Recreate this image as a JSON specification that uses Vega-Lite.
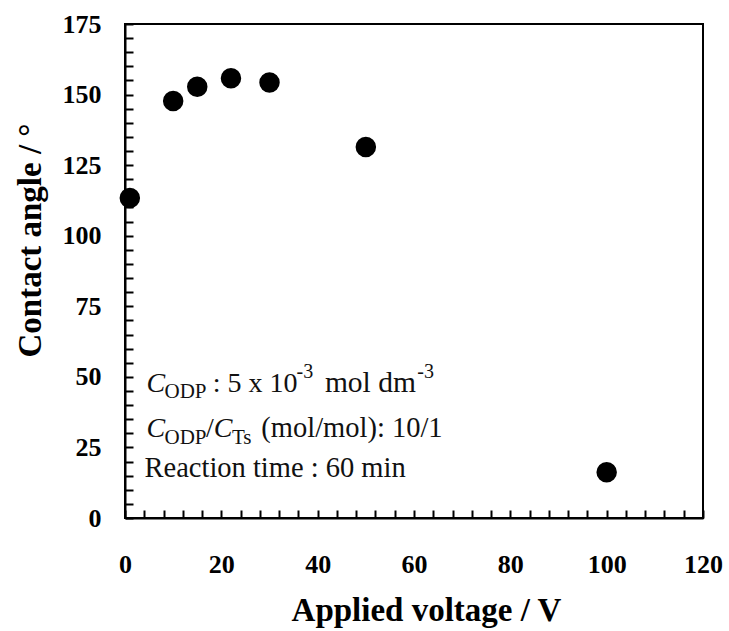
{
  "$schema": "https://vega.github.io/schema/vega-lite/v6.json",
  "width": 578,
  "height": 494,
  "autosize": "none",
  "padding": {"left": 125, "top": 24, "right": 26, "bottom": 113},
  "background": "white",
  "config": {
    "view": {"stroke": "#000", "strokeWidth": 2},
    "font": "Liberation Serif",
    "axis": {
      "domainColor": "#000",
      "domainWidth": 2,
      "tickColor": "#000",
      "tickWidth": 2,
      "tickSize": -8,
      "grid": false,
      "labelFont": "Liberation Serif",
      "labelFontWeight": "bold",
      "labelFontSize": 26,
      "labelColor": "#000",
      "titleFont": "Liberation Serif",
      "titleFontWeight": "bold",
      "titleFontSize": 33,
      "titleColor": "#000"
    }
  },
  "data": {
    "values": [
      {"voltage": 1, "angle": 113.4},
      {"voltage": 10, "angle": 147.7},
      {"voltage": 15, "angle": 152.8},
      {"voltage": 22, "angle": 155.8},
      {"voltage": 30, "angle": 154.3},
      {"voltage": 50, "angle": 131.4},
      {"voltage": 100, "angle": 16.2}
    ]
  },
  "layer": [
    {
      "mark": {"type": "point", "filled": true, "shape": "circle", "size": 420, "color": "#000", "opacity": 1},
      "encoding": {
        "x": {
          "field": "voltage", "type": "quantitative",
          "scale": {"domain": [0, 120], "nice": false, "zero": false},
          "axis": {
            "title": "Applied voltage / V",
            "values": [0,4,8,12,16,20,24,28,32,36,40,44,48,52,56,60,64,68,72,76,80,84,88,92,96,100,104,108,112,116,120],
            "tickCount": 100,
            "labelExpr": "datum.value % 20 === 0 ? datum.label : ''",
            "labelBaseline": "alphabetic",
            "labelPadding": 62,
            "labelFlush": false,
            "labelOverlap": false,
            "titleX": 301,
            "titleY": 102,
            "titleBaseline": "alphabetic"
          }
        },
        "y": {
          "field": "angle", "type": "quantitative",
          "scale": {"domain": [0, 175], "nice": false, "zero": false},
          "axis": {
            "title": "Contact angle / °",
            "values": [0,5,10,15,20,25,30,35,40,45,50,55,60,65,70,75,80,85,90,95,100,105,110,115,120,125,130,135,140,145,150,155,160,165,170,175],
            "tickCount": 100,
            "labelExpr": "datum.value % 25 === 0 ? datum.label : ''",
            "labelPadding": 32,
            "labelFlush": false,
            "labelOverlap": false,
            "titleX": -85,
            "titleY": 216,
            "titleBaseline": "alphabetic",
            "titleAngle": -90
          }
        }
      }
    },
    {"data": {"values": [{}]}, "mark": {"type": "text", "font": "Liberation Serif", "fontStyle": "italic", "fontSize": 28, "align": "left", "baseline": "alphabetic", "color": "#111"},
     "encoding": {"x": {"datum": 4.46, "type": "quantitative"}, "y": {"datum": 44.6, "type": "quantitative"}, "text": {"value": "C"}}},
    {"data": {"values": [{}]}, "mark": {"type": "text", "font": "Liberation Serif", "fontSize": 21, "align": "left", "baseline": "alphabetic", "color": "#111"},
     "encoding": {"x": {"datum": 8.2, "type": "quantitative"}, "y": {"datum": 42.5, "type": "quantitative"}, "text": {"value": "ODP"}}},
    {"data": {"values": [{}]}, "mark": {"type": "text", "font": "Liberation Serif", "fontSize": 28, "align": "left", "baseline": "alphabetic", "color": "#111"},
     "encoding": {"x": {"datum": 18.2, "type": "quantitative"}, "y": {"datum": 44.6, "type": "quantitative"}, "text": {"value": ": 5 x 10"}}},
    {"data": {"values": [{}]}, "mark": {"type": "text", "font": "Liberation Serif", "fontSize": 20, "align": "left", "baseline": "alphabetic", "color": "#111"},
     "encoding": {"x": {"datum": 35.6, "type": "quantitative"}, "y": {"datum": 49.6, "type": "quantitative"}, "text": {"value": "-3"}}},
    {"data": {"values": [{}]}, "mark": {"type": "text", "font": "Liberation Serif", "fontSize": 29.5, "align": "left", "baseline": "alphabetic", "color": "#111"},
     "encoding": {"x": {"datum": 41.5, "type": "quantitative"}, "y": {"datum": 44.6, "type": "quantitative"}, "text": {"value": "mol dm"}}},
    {"data": {"values": [{}]}, "mark": {"type": "text", "font": "Liberation Serif", "fontSize": 20, "align": "left", "baseline": "alphabetic", "color": "#111"},
     "encoding": {"x": {"datum": 60.7, "type": "quantitative"}, "y": {"datum": 49.6, "type": "quantitative"}, "text": {"value": "-3"}}},
    {"data": {"values": [{}]}, "mark": {"type": "text", "font": "Liberation Serif", "fontStyle": "italic", "fontSize": 28, "align": "left", "baseline": "alphabetic", "color": "#111"},
     "encoding": {"x": {"datum": 4.46, "type": "quantitative"}, "y": {"datum": 28.7, "type": "quantitative"}, "text": {"value": "C"}}},
    {"data": {"values": [{}]}, "mark": {"type": "text", "font": "Liberation Serif", "fontSize": 21, "align": "left", "baseline": "alphabetic", "color": "#111"},
     "encoding": {"x": {"datum": 8.2, "type": "quantitative"}, "y": {"datum": 26.2, "type": "quantitative"}, "text": {"value": "ODP"}}},
    {"data": {"values": [{}]}, "mark": {"type": "text", "font": "Liberation Serif", "fontSize": 28, "align": "left", "baseline": "alphabetic", "color": "#111"},
     "encoding": {"x": {"datum": 16.8, "type": "quantitative"}, "y": {"datum": 28.7, "type": "quantitative"}, "text": {"value": "/"}}},
    {"data": {"values": [{}]}, "mark": {"type": "text", "font": "Liberation Serif", "fontStyle": "italic", "fontSize": 28, "align": "left", "baseline": "alphabetic", "color": "#111"},
     "encoding": {"x": {"datum": 18.4, "type": "quantitative"}, "y": {"datum": 28.7, "type": "quantitative"}, "text": {"value": "C"}}},
    {"data": {"values": [{}]}, "mark": {"type": "text", "font": "Liberation Serif", "fontSize": 21, "align": "left", "baseline": "alphabetic", "color": "#111"},
     "encoding": {"x": {"datum": 22.2, "type": "quantitative"}, "y": {"datum": 26.2, "type": "quantitative"}, "text": {"value": "Ts"}}},
    {"data": {"values": [{}]}, "mark": {"type": "text", "font": "Liberation Serif", "fontSize": 28.5, "align": "left", "baseline": "alphabetic", "color": "#111"},
     "encoding": {"x": {"datum": 28.3, "type": "quantitative"}, "y": {"datum": 28.7, "type": "quantitative"}, "text": {"value": "(mol/mol): 10/1"}}},
    {"data": {"values": [{}]}, "mark": {"type": "text", "font": "Liberation Serif", "fontSize": 28.5, "align": "left", "baseline": "alphabetic", "color": "#111"},
     "encoding": {"x": {"datum": 4.05, "type": "quantitative"}, "y": {"datum": 14.5, "type": "quantitative"}, "text": {"value": "Reaction time : 60 min"}}}
  ]
}
